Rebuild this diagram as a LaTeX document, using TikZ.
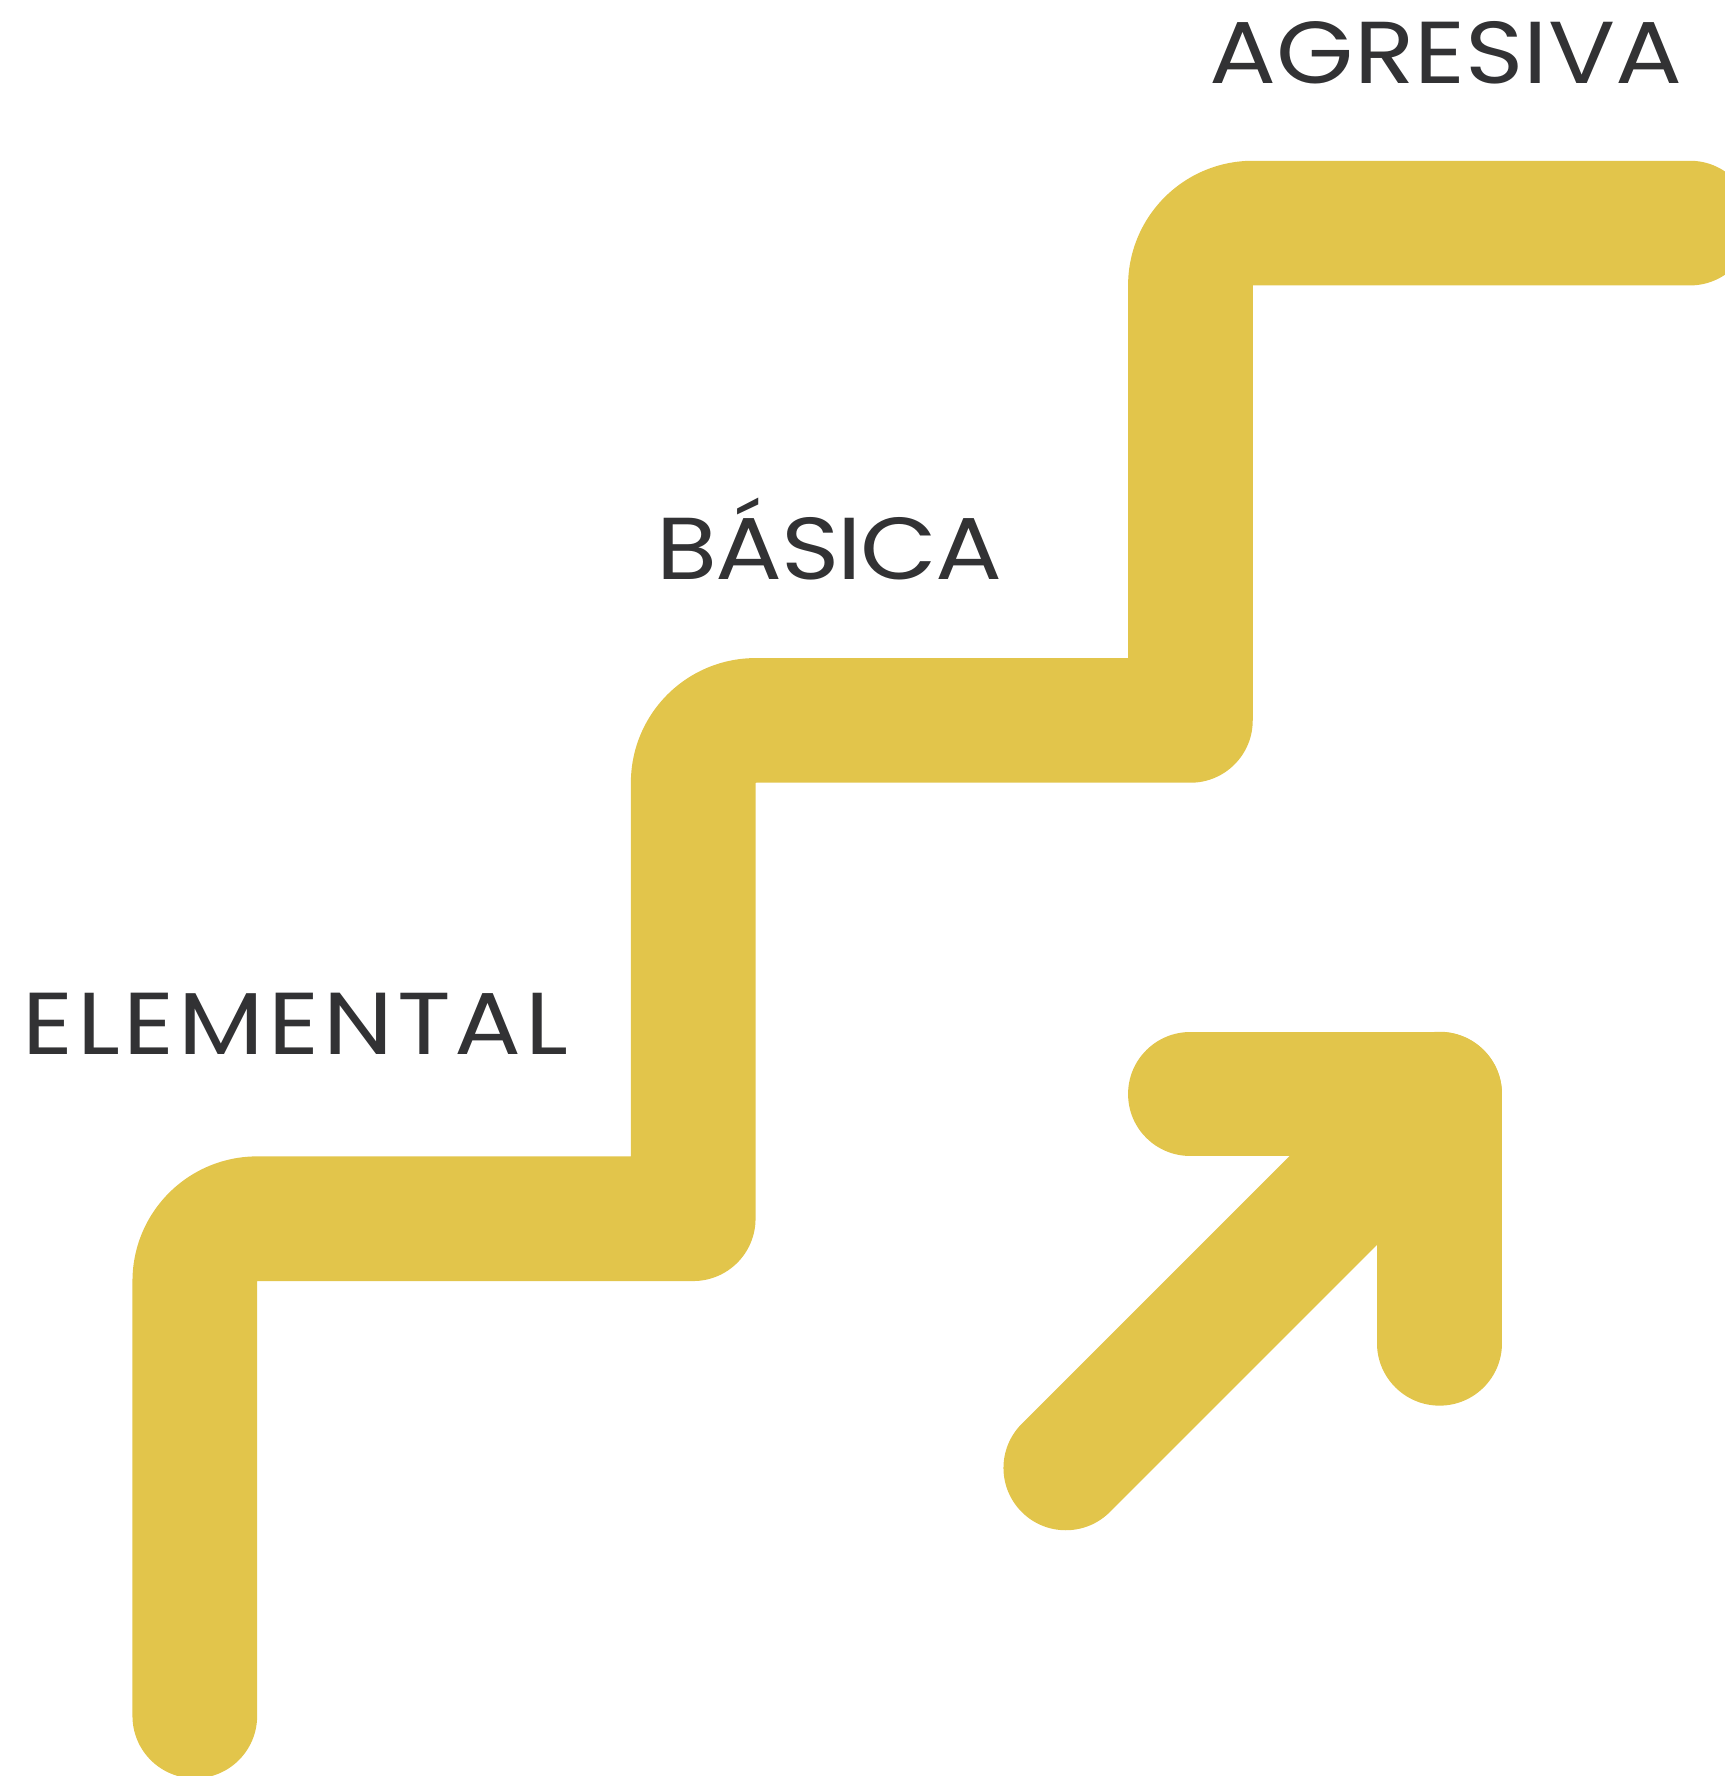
\documentclass[tikz,border=0pt]{standalone}
\usepackage{fontspec}
\setmainfont[FakeStretch=1.13]{Poppins}
\usepackage{xcolor}
\usepackage{tikz}
\usetikzlibrary{positioning}
\definecolor{stairgold}{HTML}{E2C54B}
\definecolor{labelgray}{HTML}{323234}

\begin{document}
\begin{tikzpicture}[
    x=0.01cm, y=-0.01cm,
    stair/.style={draw=stairgold, line width=1.246cm, line cap=round, line join=round},
    level/.style={text=labelgray, font=\fontsize{25}{30}\selectfont, inner sep=0pt}
]
\useasboundingbox (0,0) rectangle (1725,1776);
\clip (0,0) rectangle (1725,1776);

% Staircase
\draw[stair] (194.8,1716) [rounded corners=0.623cm] -- (194.8,1218.7)
    [sharp corners] -- (693.2,1218.7)
    [rounded corners=0.623cm] -- (693.2,720.4)
    [sharp corners] -- (1190.4,720.4)
    [rounded corners=0.623cm] -- (1190.4,223.1) -- (1690,223.1);

% Arrow
\coordinate (tail) at (1065.8,1467.9);
\coordinate (tip) at (1439.6,1094.1);
\coordinate (barbL) at (1190.4,1094.1);
\coordinate (barbD) at (1439.6,1343.3);
\draw[stair] (tail) -- (tip);
\draw[stair] (barbL) -- (tip) -- (barbD);

% Step labels
\node[level, anchor=base east] (agresiva) at (1683,83.8) {AGRESIVA};
\node[level, anchor=base west] (basica) at (656,579.9) {\addfontfeature{LetterSpace=-2}BÁSICA};
\node[level, anchor=base west] (elemental) at (21.5,1054.5) {\addfontfeature{LetterSpace=4.5}ELEMENTAL};

\end{tikzpicture}
\end{document}
